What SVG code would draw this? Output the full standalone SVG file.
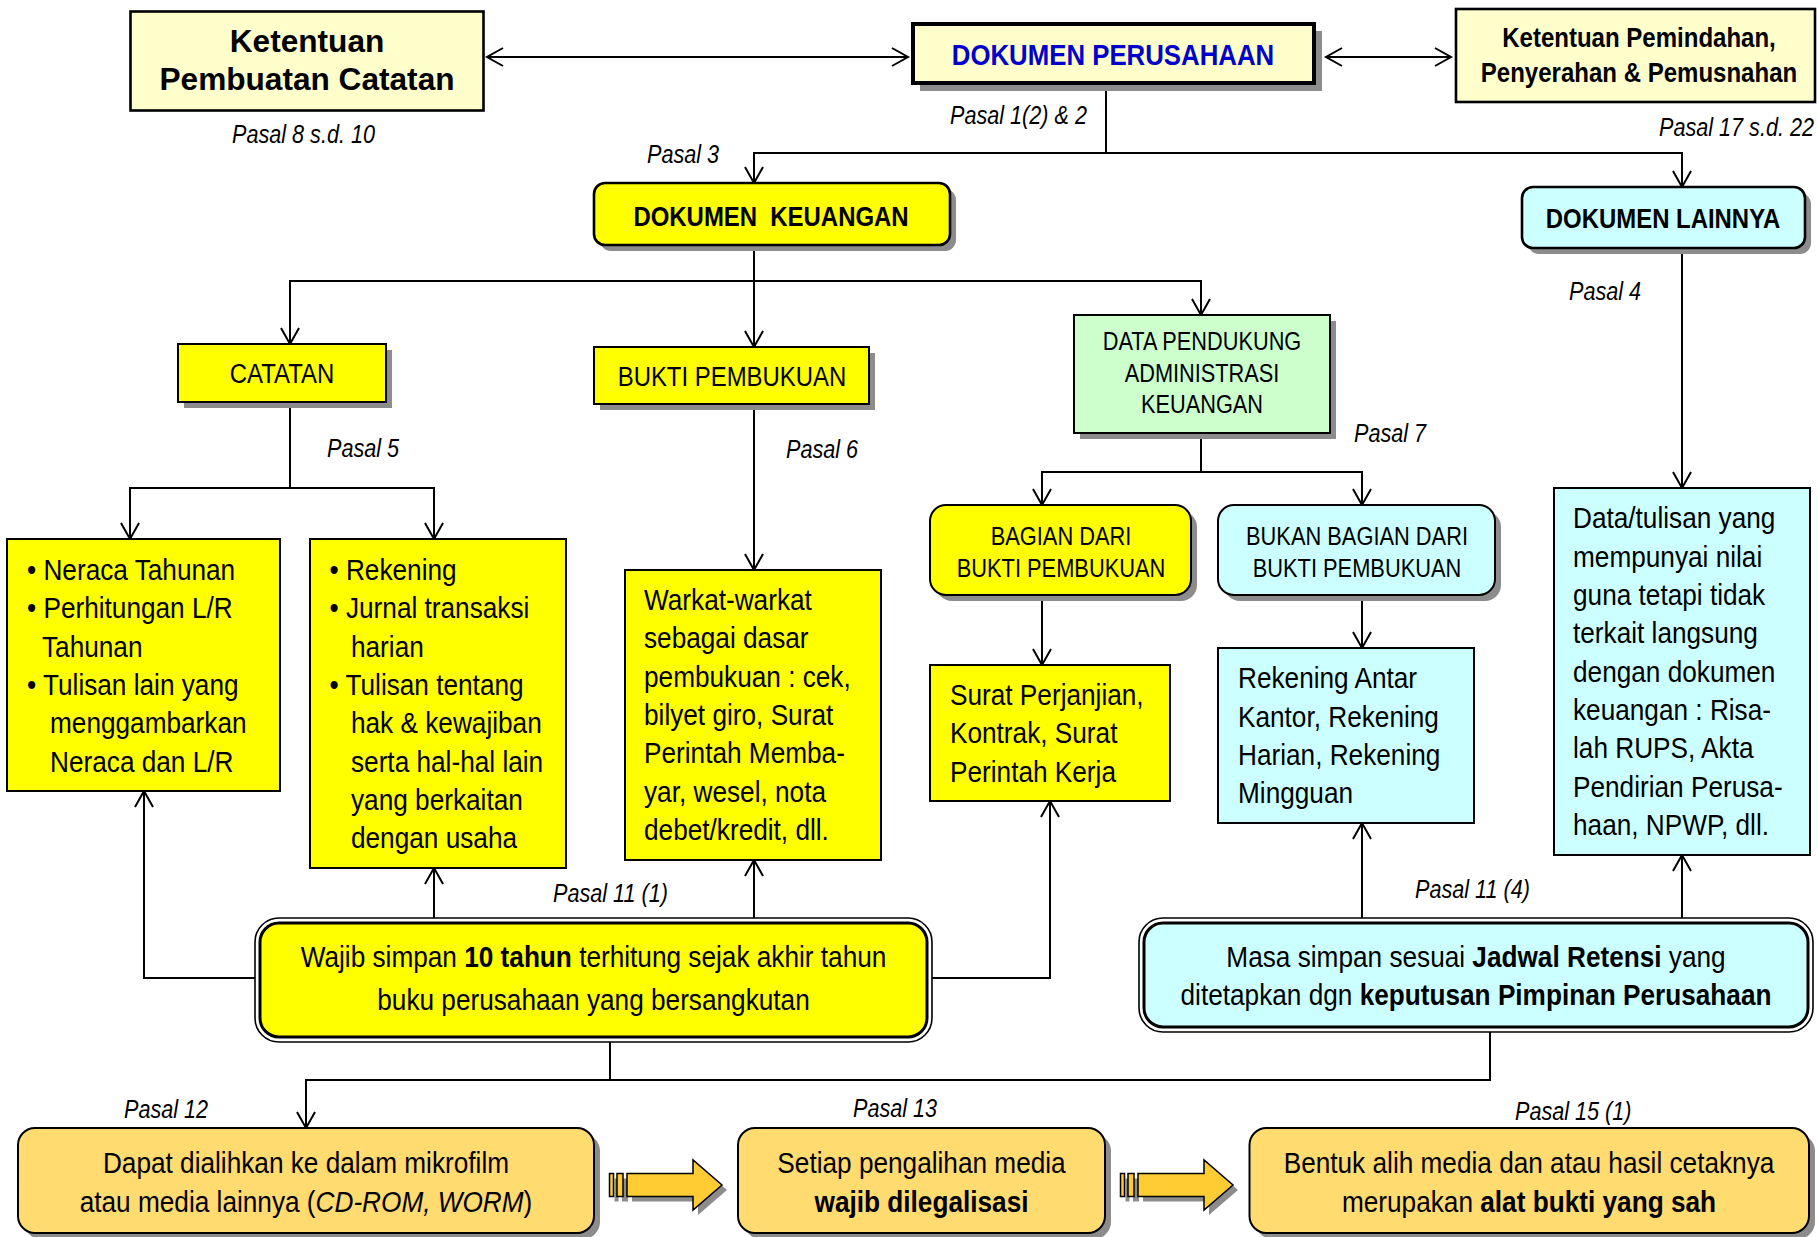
<svg xmlns="http://www.w3.org/2000/svg" width="1818" height="1237" viewBox="0 0 1818 1237">
<style>
text{font-family:"Liberation Sans",Arial,sans-serif;fill:#000}
.body{font-size:29px}
.hd{font-size:28px}
.sm{font-size:26px}
.ps{font-size:25px;font-style:italic}
.b{font-weight:bold}
.ln{fill:none;stroke:#000;stroke-width:2}
.arr{marker-end:url(#ah)}
.arr2{marker-start:url(#ah);marker-end:url(#ah)}
.sh{fill:#8c8c8c}
.bx{stroke:#000;stroke-width:2}
.bx3{stroke:#000;stroke-width:2.6}
.y{fill:#FFFF00}
.ly{fill:#FFFFCC}
.cy{fill:#CCFFFF}
.gr{fill:#CCFFCC}
.or{fill:#FFDB70}
.ba{fill:#FFCC33;stroke:#000;stroke-width:1.5}
</style>
<defs>
<marker id="ah" markerUnits="userSpaceOnUse" viewBox="-18 -11 20 22" refX="0" refY="0" markerWidth="20" markerHeight="22" orient="auto-start-reverse" overflow="visible">
<path d="M-16,-9 L0,0 L-16,9" fill="none" stroke="#000" stroke-width="2"/>
</marker>
<g id="blockarrow">
<g transform="translate(5,5)" class="sh">
<rect x="609.5" y="1173.5" width="4" height="23"/>
<rect x="617" y="1173.5" width="6" height="23"/>
<path d="M627,1173.5 H693 V1160 L722,1185 L693,1210 V1196.5 H627 Z"/>
</g>
<rect class="ba" x="609.5" y="1173.5" width="4" height="23"/>
<rect class="ba" x="617" y="1173.5" width="6" height="23"/>
<path class="ba" d="M627,1173.5 H693 V1160 L722,1185 L693,1210 V1196.5 H627 Z"/>
</g>
</defs>
<rect x="0" y="0" width="1818" height="1237" fill="#fff"/>

<g id="connectors">
<path class="ln arr2" d="M487,57 H908"/>
<path class="ln arr2" d="M1326,57 H1451"/>
<path class="ln arr" d="M1106,86 V153 H754 V183"/>
<path class="ln arr" d="M1106,153 H1682 V187"/>
<path class="ln arr" d="M754,248 V347"/>
<path class="ln arr" d="M754,281 H290 V344"/>
<path class="ln arr" d="M754,281 H1201 V315"/>
<path class="ln" d="M290,405 V488"/>
<path class="ln arr" d="M290,488 H130 V539"/>
<path class="ln arr" d="M290,488 H434 V539"/>
<path class="ln arr" d="M754,407 V570"/>
<path class="ln" d="M1201,436 V472"/>
<path class="ln arr" d="M1201,472 H1042 V505"/>
<path class="ln arr" d="M1201,472 H1362 V505"/>
<path class="ln arr" d="M1682,250 V488"/>
<path class="ln arr" d="M1042,598 V665"/>
<path class="ln arr" d="M1362,598 V648"/>
<path class="ln arr" d="M255,978 H144 V791"/>
<path class="ln arr" d="M932,978 H1050 V801"/>
<path class="ln arr" d="M434,918 V868"/>
<path class="ln arr" d="M754,918 V860"/>
<path class="ln arr" d="M1362,918 V823"/>
<path class="ln arr" d="M1682,918 V855"/>
<path class="ln arr" d="M610,1042 V1080 H306 V1128"/>
<path class="ln" d="M1490,1032 V1080 H610"/>
</g>

<g id="n-ketentuan-pembuatan">
<rect class="ly bx3" x="130.5" y="11.5" width="353" height="99"/>
<g transform="translate(307,0) scale(1.02,1)">
<text class="b" style="font-size:31px" x="0" y="52" text-anchor="middle">Ketentuan</text>
<text class="b" style="font-size:31px" x="0" y="90" text-anchor="middle">Pembuatan Catatan</text>
</g>
</g>

<g id="n-dokumen-perusahaan">
<rect class="sh" x="920" y="31" width="402" height="60"/>
<rect class="ly" x="913" y="24" width="401" height="59" stroke="#000" stroke-width="4"/>
<g transform="translate(1113,0) scale(0.86,1)">
<text class="b" style="font-size:30px;fill:#0000CC" x="0" y="65" text-anchor="middle">DOKUMEN PERUSAHAAN</text>
</g>
</g>

<g id="n-ketentuan-pemindahan">
<rect class="ly bx3" x="1456" y="9" width="359" height="93"/>
<g transform="translate(1639,0) scale(0.89,1)">
<text class="b" style="font-size:27px" x="0" y="47" text-anchor="middle">Ketentuan Pemindahan,</text>
<text class="b" style="font-size:27px" x="0" y="82" text-anchor="middle">Penyerahan &amp; Pemusnahan</text>
</g>
</g>

<g id="n-dokumen-keuangan">
<rect class="sh" x="600" y="189" width="356" height="62" rx="11"/>
<rect class="y bx3" x="594" y="183" width="356" height="62" rx="11"/>
<g transform="translate(771,0) scale(0.855,1)">
<text class="b hd" x="0" y="226" text-anchor="middle" xml:space="preserve">DOKUMEN  KEUANGAN</text>
</g>
</g>

<g id="n-dokumen-lainnya">
<rect class="sh" x="1528" y="193" width="283" height="61" rx="11"/>
<rect class="cy bx3" x="1522" y="187" width="283" height="61" rx="11"/>
<g transform="translate(1663,0) scale(0.855,1)">
<text class="b hd" x="0" y="228" text-anchor="middle">DOKUMEN LAINNYA</text>
</g>
</g>

<g id="n-catatan">
<rect class="sh" x="184" y="350" width="208" height="58"/>
<rect class="y bx" x="178" y="344" width="208" height="58"/>
<g transform="translate(282,0) scale(0.855,1)">
<text class="hd" x="0" y="383" text-anchor="middle">CATATAN</text>
</g>
</g>

<g id="n-bukti-pembukuan">
<rect class="sh" x="600" y="353" width="275" height="57"/>
<rect class="y bx" x="594" y="347" width="275" height="57"/>
<g transform="translate(732,0) scale(0.855,1)">
<text class="hd" x="0" y="386" text-anchor="middle">BUKTI PEMBUKUAN</text>
</g>
</g>

<g id="n-data-pendukung">
<rect class="sh" x="1080" y="321" width="256" height="118"/>
<rect class="gr bx" x="1074" y="315" width="256" height="118"/>
<g transform="translate(1202,0) scale(0.87,1)">
<text style="font-size:25px" x="0" y="350" text-anchor="middle">DATA PENDUKUNG</text>
<text style="font-size:25px" x="0" y="382" text-anchor="middle">ADMINISTRASI</text>
<text style="font-size:25px" x="0" y="413" text-anchor="middle">KEUANGAN</text>
</g>
</g>

<g id="n-bagian">
<rect class="sh" x="936" y="511" width="261" height="90" rx="16"/>
<rect class="y bx" x="930" y="505" width="261" height="90" rx="16"/>
<g transform="translate(1061,0) scale(0.84,1)">
<text class="sm" x="0" y="545" text-anchor="middle">BAGIAN DARI</text>
<text class="sm" x="0" y="577" text-anchor="middle">BUKTI PEMBUKUAN</text>
</g>
</g>

<g id="n-bukan-bagian">
<rect class="sh" x="1224" y="511" width="277" height="90" rx="16"/>
<rect class="cy bx" x="1218" y="505" width="277" height="90" rx="16"/>
<g transform="translate(1357,0) scale(0.84,1)">
<text class="sm" x="0" y="545" text-anchor="middle">BUKAN BAGIAN DARI</text>
<text class="sm" x="0" y="577" text-anchor="middle">BUKTI PEMBUKUAN</text>
</g>
</g>

<g id="n-neraca">
<rect class="y bx" x="7" y="539" width="273" height="252"/>
<g transform="translate(27,0) scale(0.9034,1)">
<text class="body" x="0" y="580">• Neraca Tahunan</text>
<text class="body" x="0" y="618">• Perhitungan L/R</text>
<text class="body" x="16.6" y="657">Tahunan</text>
<text class="body" x="0" y="695">• Tulisan lain yang</text>
<text class="body" x="25.5" y="733">menggambarkan</text>
<text class="body" x="25.5" y="772">Neraca dan L/R</text>
</g>
</g>

<g id="n-rekening">
<rect class="y bx" x="310" y="539" width="256" height="329"/>
<g transform="translate(329.5,0) scale(0.9034,1)">
<text class="body" x="0" y="580">• Rekening</text>
<text class="body" x="0" y="618">• Jurnal transaksi</text>
<text class="body" x="23.8" y="657">harian</text>
<text class="body" x="0" y="695">• Tulisan tentang</text>
<text class="body" x="23.8" y="733">hak &amp; kewajiban</text>
<text class="body" x="23.8" y="772">serta hal-hal lain</text>
<text class="body" x="23.8" y="810">yang berkaitan</text>
<text class="body" x="23.8" y="848">dengan usaha</text>
</g>
</g>

<g id="n-warkat">
<rect class="y bx" x="625" y="570" width="256" height="290"/>
<g transform="translate(644,0) scale(0.9034,1)">
<text class="body" x="0" y="610">Warkat-warkat</text>
<text class="body" x="0" y="648">sebagai dasar</text>
<text class="body" x="0" y="687">pembukuan : cek,</text>
<text class="body" x="0" y="725">bilyet giro, Surat</text>
<text class="body" x="0" y="763">Perintah Memba-</text>
<text class="body" x="0" y="802">yar, wesel, nota</text>
<text class="body" x="0" y="840">debet/kredit, dll.</text>
</g>
</g>

<g id="n-surat">
<rect class="y bx" x="930" y="665" width="240" height="136"/>
<g transform="translate(950,0) scale(0.9034,1)">
<text class="body" x="0" y="705">Surat Perjanjian,</text>
<text class="body" x="0" y="743">Kontrak, Surat</text>
<text class="body" x="0" y="782">Perintah Kerja</text>
</g>
</g>

<g id="n-rekening-antar">
<rect class="cy bx" x="1218" y="648" width="256" height="175"/>
<g transform="translate(1238,0) scale(0.9034,1)">
<text class="body" x="0" y="688">Rekening Antar</text>
<text class="body" x="0" y="727">Kantor, Rekening</text>
<text class="body" x="0" y="765">Harian, Rekening</text>
<text class="body" x="0" y="803">Mingguan</text>
</g>
</g>

<g id="n-data-tulisan">
<rect class="cy bx" x="1554" y="488" width="256" height="367"/>
<g transform="translate(1573,0) scale(0.9034,1)">
<text class="body" x="0" y="528">Data/tulisan yang</text>
<text class="body" x="0" y="567">mempunyai nilai</text>
<text class="body" x="0" y="605">guna tetapi tidak</text>
<text class="body" x="0" y="643">terkait langsung</text>
<text class="body" x="0" y="682">dengan dokumen</text>
<text class="body" x="0" y="720">keuangan : Risa-</text>
<text class="body" x="0" y="758">lah RUPS, Akta</text>
<text class="body" x="0" y="797">Pendirian Perusa-</text>
<text class="body" x="0" y="835">haan, NPWP, dll.</text>
</g>
</g>

<g id="n-wajib">
<rect x="255" y="918" width="677" height="124" rx="24" fill="#fff" stroke="#000" stroke-width="1.6"/>
<rect class="y" x="260" y="923" width="667" height="114" rx="19" stroke="#000" stroke-width="3"/>
<g transform="translate(593.5,0) scale(0.9034,1)">
<text class="body" x="0" y="967" text-anchor="middle">Wajib simpan <tspan class="b">10 tahun</tspan> terhitung sejak akhir tahun</text>
<text class="body" x="0" y="1010" text-anchor="middle">buku perusahaan yang bersangkutan</text>
</g>
</g>

<g id="n-masa">
<rect x="1139" y="918" width="674" height="114" rx="24" fill="#fff" stroke="#000" stroke-width="1.6"/>
<rect class="cy" x="1144" y="923" width="664" height="104" rx="19" stroke="#000" stroke-width="3"/>
<g transform="translate(1476,0) scale(0.9034,1)">
<text class="body" x="0" y="967" text-anchor="middle">Masa simpan sesuai <tspan class="b">Jadwal Retensi</tspan> yang</text>
<text class="body" x="0" y="1005" text-anchor="middle">ditetapkan dgn <tspan class="b">keputusan Pimpinan Perusahaan</tspan></text>
</g>
</g>

<g id="n-dapat">
<rect class="sh" x="24" y="1134" width="576" height="105" rx="17"/>
<rect class="or bx" x="18" y="1128" width="576" height="105" rx="17"/>
<g transform="translate(306,0) scale(0.9034,1)">
<text class="body" x="0" y="1173" text-anchor="middle">Dapat dialihkan ke dalam mikrofilm</text>
<text class="body" x="0" y="1212" text-anchor="middle">atau media lainnya (<tspan font-style="italic">CD-ROM, WORM</tspan>)</text>
</g>
</g>

<g id="n-setiap">
<rect class="sh" x="744" y="1134" width="367" height="105" rx="17"/>
<rect class="or bx" x="738" y="1128" width="367" height="105" rx="17"/>
<g transform="translate(921.5,0) scale(0.9034,1)">
<text class="body" x="0" y="1173" text-anchor="middle">Setiap pengalihan media</text>
<text class="body b" x="0" y="1212" text-anchor="middle">wajib dilegalisasi</text>
</g>
</g>

<g id="n-bentuk">
<rect class="sh" x="1255.5" y="1134" width="559.5" height="105" rx="17"/>
<rect class="or bx" x="1249.5" y="1128" width="559.5" height="105" rx="17"/>
<g transform="translate(1529,0) scale(0.9034,1)">
<text class="body" x="0" y="1173" text-anchor="middle">Bentuk alih media dan atau hasil cetaknya</text>
<text class="body" x="0" y="1212" text-anchor="middle">merupakan <tspan class="b">alat bukti yang sah</tspan></text>
</g>
</g>

<g id="block-arrows">
<use href="#blockarrow"/>
<use href="#blockarrow" transform="translate(511,0)"/>
</g>

<g id="labels">
<g transform="translate(232,0) scale(0.865,1)"><text class="ps" x="0" y="143">Pasal 8 s.d. 10</text></g>
<g transform="translate(647,0) scale(0.865,1)"><text class="ps" x="0" y="163">Pasal 3</text></g>
<g transform="translate(950,0) scale(0.865,1)"><text class="ps" x="0" y="124">Pasal 1(2) &amp; 2</text></g>
<g transform="translate(1659,0) scale(0.865,1)"><text class="ps" x="0" y="136">Pasal 17 s.d. 22</text></g>
<g transform="translate(1569,0) scale(0.865,1)"><text class="ps" x="0" y="300">Pasal 4</text></g>
<g transform="translate(327,0) scale(0.865,1)"><text class="ps" x="0" y="457">Pasal 5</text></g>
<g transform="translate(786,0) scale(0.865,1)"><text class="ps" x="0" y="458">Pasal 6</text></g>
<g transform="translate(1354,0) scale(0.865,1)"><text class="ps" x="0" y="442">Pasal 7</text></g>
<g transform="translate(553,0) scale(0.865,1)"><text class="ps" x="0" y="902">Pasal 11 (1)</text></g>
<g transform="translate(1415,0) scale(0.865,1)"><text class="ps" x="0" y="898">Pasal 11 (4)</text></g>
<g transform="translate(124,0) scale(0.865,1)"><text class="ps" x="0" y="1118">Pasal 12</text></g>
<g transform="translate(853,0) scale(0.865,1)"><text class="ps" x="0" y="1117">Pasal 13</text></g>
<g transform="translate(1515,0) scale(0.865,1)"><text class="ps" x="0" y="1120">Pasal 15 (1)</text></g>
</g>
</svg>
